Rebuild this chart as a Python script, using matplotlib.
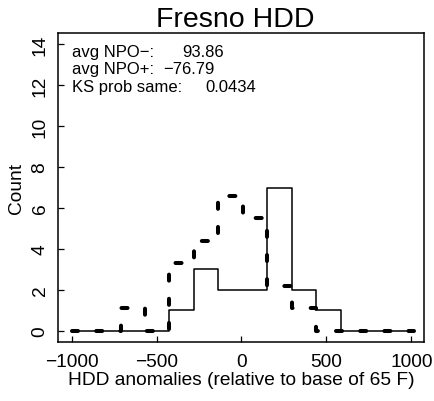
import matplotlib
matplotlib.use("Agg")
import matplotlib.pyplot as plt
import numpy as np

# bin positions (step points) and histogram values
x_pts = [-1000, -856, -712, -568, -424, -280, -136, 8, 152, 296, 440, 584, 728, 872, 1016]
npo_plus = [0, 0, 0, 0, 1, 3, 2, 2, 7, 2, 1, 0, 0, 0, 0]
npo_minus = [0, 0, 1.1, 0, 3.3, 4.4, 6.6, 5.5, 2.2, 1.1, 0, 0, 0, 0, 0]

title = "Fresno HDD"
xlabel = "HDD anomalies (relative to base of 65 F)"
ylabel = "Count"
xticks = [-1000, -500, 0, 500, 1000]
yticks = [0, 2, 4, 6, 8, 10, 12, 14]
stat_labels = ["avg NPO\u2212:", "avg NPO+:", "KS prob same:"]
stat_values = ["93.86", "\u221276.79", "0.0434"]

plt.rcParams['font.family'] = ['Liberation Sans', 'DejaVu Sans']

fig = plt.figure(figsize=(4.35, 4.02), dpi=100)
ax = fig.add_axes([0.134, 0.146, 0.9747 - 0.134, 0.916 - 0.146])

ax.step(x_pts, npo_plus, where='post', color='black', lw=1.1)
ax.step(x_pts, npo_minus, where='post', color='black', lw=2.9,
        linestyle=(0, (1.5, 4.5)), dash_capstyle='round', solid_capstyle='round')

ax.set_xlim(-1079, 1075)
ax.set_ylim(-0.56, 14.56)
ax.set_xticks(xticks)
ax.set_yticks(yticks)
ax.set_xticklabels([str(t).replace('-', '\u2212') for t in xticks])
ax.set_yticklabels([str(t) for t in yticks], rotation=90, va='center')
ax.tick_params(direction='in', length=4, width=0.9, labelsize=13.8)
ax.tick_params(axis='x', pad=7.5)
ax.tick_params(axis='y', pad=7)
for s in ax.spines.values():
    s.set_linewidth(1.1)

ax.set_xlabel(xlabel, fontsize=13.8, labelpad=1)
ax.set_ylabel(ylabel, fontsize=13.8, labelpad=5)
fig.text(235 / 435, 1 - 27 / 402, title, ha='center', va='baseline', fontsize=20.5)

ys = [0.9257, 0.870, 0.8127]
vx = [0.340, 0.287, 0.401]
for lab, val, y, xv in zip(stat_labels, stat_values, ys, vx):
    ax.text(0.0366, y, lab, transform=ax.transAxes, fontsize=12, va='baseline', ha='left')
    ax.text(xv, y, val, transform=ax.transAxes, fontsize=12, va='baseline', ha='left')

fig.savefig("out.png", dpi=100)
